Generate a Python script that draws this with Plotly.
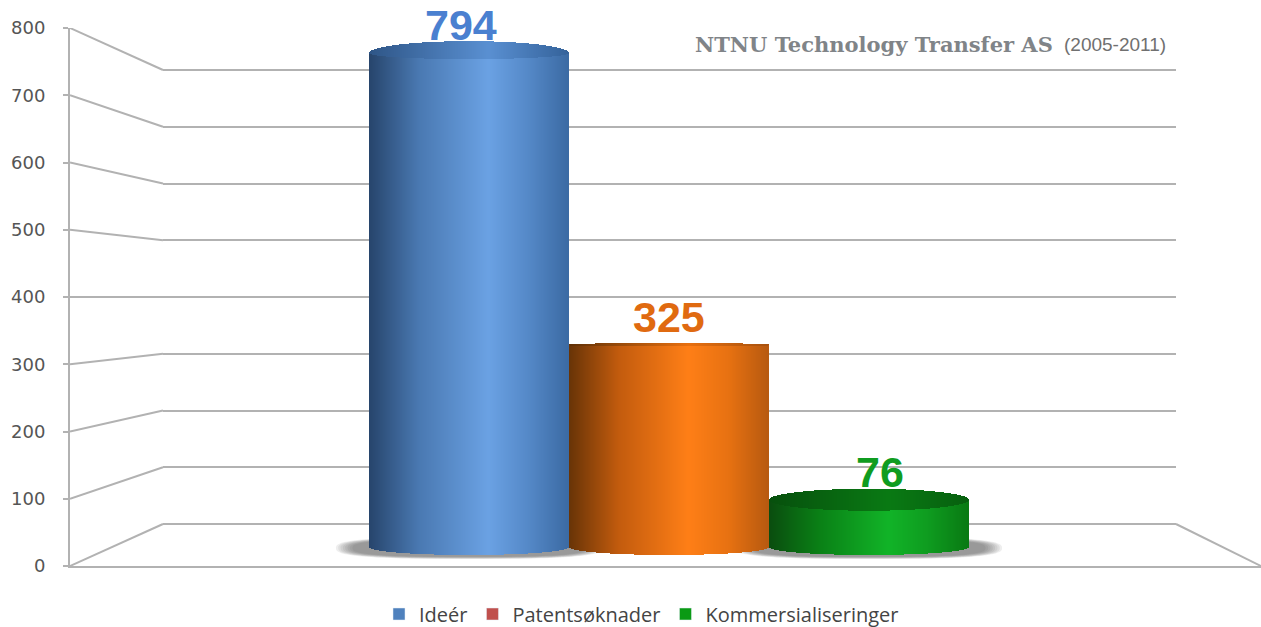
import numpy as np
import plotly.graph_objects as go

# ---- data ----
categories = ["Ideér", "Patentsøknader", "Kommersialiseringer"]
values = [794, 325, 76]
tick_values = [0, 100, 200, 300, 400, 500, 600, 700, 800]
title_main = "NTNU Technology Transfer AS"
title_years = "(2005-2011)"

# ---- style ----
W, H = 1261, 627
legend_colors = ["#4f81bd", "#c0504d", "#0a9a14"]
label_colors = ["#4a80d0", "#e06a10", "#0f9c20"]
label_xshift = [-8, 0, 11]
cap_ry = [12, 2, 11]          # apparent height of the top ellipse, px
cap_low_ry = [6, 1, 11]       # how far its darker face reaches below the centre, px
base_ry = 8
GRID = "#b2b2b2"

body_stops = [
    [(0, "#27456c"), (.25, "#4a79b2"), (.6, "#6ba2e4"), (.8, "#5589c8"), (1, "#3c6ba4")],
    [(0, "#683407"), (.25, "#c35c0e"), (.6, "#ff7f17"), (.8, "#e87212"), (1, "#b85a10")],
    [(0, "#0a4d0f"), (.25, "#0a8016"), (.6, "#12b428"), (.8, "#0f9c20"), (1, "#097a13")],
]
cap_stops = [
    [(0, "#2f5687"), (.6, "#5a90d2"), (1, "#35639b")],
    [(0, "#5f3006"), (.6, "#e87010"), (1, "#a8520e")],
    [(0, "#07500d"), (.6, "#0a7a14"), (1, "#07600f")],
]

# pixel anchors of the frames
PX_SCALE = 0.622          # px per unit on the cylinders
BASE_Y = 547
CENTER0, STEP = 469, 200
FRONT_X, FRONT_0, FRONT_800 = 70, 566, 28
BACK_L, BACK_R, BACK_0, BACK_800 = 163, 1176, 524, 70
BACK_PAD = 4              # room so that the first and last gridline are drawn


def hex2rgb(h):
    return np.array([int(h[i:i + 2], 16) for i in (1, 3, 5)], float)


def gradient(stops, t):
    pos = [s[0] for s in stops]
    rgb = np.array([hex2rgb(s[1]) for s in stops])
    return ["rgb(%d,%d,%d)" % tuple(np.interp(v, pos, rgb[:, c]) for c in range(3)) for v in t]


fig = go.Figure()

# back wall subplot needs a trace of its own for its gridlines to be drawn
fig.add_trace(go.Scatter(x=[.5], y=[None], mode="lines", xaxis="x", yaxis="y",
                         showlegend=False, hoverinfo="skip"))

# --- perspective side lines, on the front axis frame (x2/y2)
front_scale = (FRONT_0 - FRONT_800) / 800
back_scale = (BACK_0 - BACK_800) / 800
x2_of = lambda px: (px - FRONT_X) / (W - FRONT_X)
for v in tick_values:
    back_px = BACK_0 - v * back_scale
    fig.add_trace(go.Scatter(
        x=[0, x2_of(BACK_L)], y=[v, (FRONT_0 - back_px) / front_scale],
        mode="lines", line=dict(color=GRID, width=2), xaxis="x2", yaxis="y2",
        showlegend=False, hoverinfo="skip"))
fig.add_trace(go.Scatter(
    x=[x2_of(BACK_R), 1], y=[(FRONT_0 - BACK_0) / front_scale, 0],
    mode="lines", line=dict(color=GRID, width=2), xaxis="x2", yaxis="y2",
    showlegend=False, hoverinfo="skip"))

# --- soft shadow under the outer cylinders (x3/y3, below the cylinders)
for i, extra in ((0, 33), (2, 33)):
    for f in (1.0, .93, .86, .79, .72, .65, .58, .5):
        a = np.linspace(0, 2 * np.pi, 120)
        rx = .5 + extra / STEP * f
        ry = 11 * (.6 + .4 * f) / PX_SCALE
        fig.add_trace(go.Scatter(
            x=i + rx * np.sign(np.cos(a)) * np.abs(np.cos(a)) ** .7,
            y=-1 / PX_SCALE + ry * np.sign(np.sin(a)) * np.abs(np.sin(a)) ** .7,
            fill="toself", mode="none", fillcolor="rgba(70,70,70,0.09)",
            xaxis="x3", yaxis="y3", showlegend=False, hoverinfo="skip"))

# --- cylinders (x4/y4): one bar per pixel column, ends following the ellipses
N = 199
u = (np.arange(N) + .5) / N       # 0..1 across the cylinder
arc = np.sqrt(1 - (2 * u - 1) ** 2)
for i, val in enumerate(values):
    x = i + (u - .5) * N / STEP
    bottom = -base_ry * arc / PX_SCALE
    top = val + cap_ry[i] * arc / PX_SCALE
    cap_low = val - cap_low_ry[i] * arc / PX_SCALE
    fig.add_trace(go.Bar(
        x=x, base=bottom, y=top - bottom, width=1.7 / STEP,
        marker=dict(color=gradient(body_stops[i], u), line_width=0),
        xaxis="x4", yaxis="y4", showlegend=False, hoverinfo="skip"))
    fig.add_trace(go.Bar(
        x=x, base=cap_low, y=top - cap_low, width=1.7 / STEP,
        marker=dict(color=gradient(cap_stops[i], u), line_width=0),
        xaxis="x4", yaxis="y4", showlegend=False, hoverinfo="skip"))

# --- legend entries
for name, c in zip(categories, legend_colors):
    fig.add_trace(go.Bar(x=[None], y=[None], name=name, marker_color=c,
                         xaxis="x4", yaxis="y4"))

annotations = []
for i, val in enumerate(values):
    annotations.append(dict(
        x=i, y=val, xref="x4", yref="y4", text=f"<b>{val}</b>", showarrow=False,
        xshift=label_xshift[i], yshift=28, yanchor="middle",
        font=dict(family="Liberation Sans", size=43, color=label_colors[i])))
annotations.append(dict(
    x=693 / W, y=1 - 44 / H, xref="paper", yref="paper", xanchor="left", yanchor="middle",
    text=f"<b>{title_main}</b>", showarrow=False,
    font=dict(family="DejaVu Serif", size=21, color="#808488")))
annotations.append(dict(
    x=1062 / W, y=1 - 44 / H, xref="paper", yref="paper", xanchor="left", yanchor="middle",
    text=title_years, showarrow=False,
    font=dict(family="Liberation Sans", size=19, color="#707070")))

hidden = dict(visible=False, showgrid=False, zeroline=False)
cyl_x_range = [-CENTER0 / STEP, (W - CENTER0) / STEP]
cyl_y_range = [(BASE_Y - H) / PX_SCALE, BASE_Y / PX_SCALE]
fig.update_layout(
    width=W, height=H, autosize=False, paper_bgcolor="white", plot_bgcolor="rgba(0,0,0,0)",
    margin=dict(l=0, r=0, t=0, b=0, pad=0, autoexpand=False), barmode="overlay", bargap=0,
    annotations=annotations, hovermode=False,
    font=dict(family="DejaVu Sans"),
    legend=dict(orientation="h", x=379 / W, xanchor="left", y=1 - 614 / H, yanchor="middle",
                font=dict(family="Open Sans", size=20, color="#444444"),
                bgcolor="rgba(0,0,0,0)"),
    # back wall: gridlines only
    xaxis=dict(hidden, domain=[BACK_L / W, BACK_R / W], range=[0, 1]),
    yaxis=dict(anchor="x",
               domain=[1 - (BACK_0 + BACK_PAD) / H, 1 - (BACK_800 - BACK_PAD) / H],
               range=[-BACK_PAD / back_scale, 800 + BACK_PAD / back_scale],
               tickvals=tick_values, showgrid=True, gridcolor=GRID, gridwidth=2,
               zeroline=False, showticklabels=False, ticks="", showline=False),
    # front axis with its labels
    xaxis2=dict(anchor="y2", domain=[FRONT_X / W, 1], range=[0, 1], showgrid=False,
                zeroline=False, showticklabels=False, ticks="", showline=True,
                linecolor=GRID, linewidth=2),
    yaxis2=dict(anchor="x2", domain=[1 - FRONT_0 / H, 1 - FRONT_800 / H], range=[0, 800],
                tickvals=tick_values, showgrid=False, zeroline=False, showline=True,
                linecolor=GRID, linewidth=2, ticks="outside", ticklen=5, tickcolor=GRID,
                tickwidth=2, ticklabelstandoff=14,
                tickfont=dict(family="DejaVu Sans", size=18, color="#555555")),
    # shadows and cylinders share the same scales
    xaxis3=dict(hidden, anchor="y3", domain=[0, 1], range=cyl_x_range),
    yaxis3=dict(hidden, anchor="x3", domain=[0, 1], range=cyl_y_range),
    xaxis4=dict(hidden, anchor="y4", domain=[0, 1], range=cyl_x_range),
    yaxis4=dict(hidden, anchor="x4", domain=[0, 1], range=cyl_y_range),
)

fig.write_html("out.html", config={"displayModeBar": False},
               post_script="document.body.style.margin='0';")
